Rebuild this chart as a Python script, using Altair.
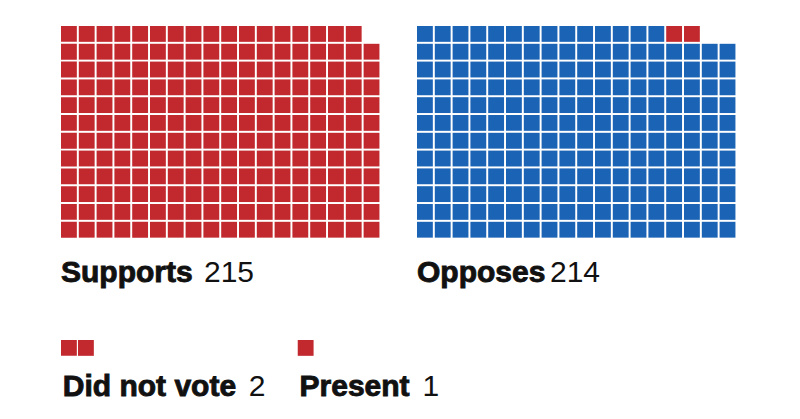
import altair as alt
import pandas as pd

# ---- data ----
groups = ["Supports", "Opposes"]
group_totals = [215, 214]
# party make-up of each group, in fill order
group_parts = [[("R", 215)], [("D", 212), ("R", 2)]]

other_labels = ["Did not vote", "Present"]
other_counts = [2, 1]
other_party = ["R", "R"]

party_domain = ["R", "D"]
party_colors = ["#c1292e", "#1b63b5"]

# ---- layout (in grid units) ----
PITCH = 17.8          # px per grid cell
COLS, ROWS = 18, 12
W, H = 784, 403
group_col0 = [0, 20]
other_col0 = [0, 13.3]
other_row = 17.64
label_row = 14.38
other_label_row = 20.79
num_gap_px = [143, 133]
other_num_gap_px = [186, 123]
SQ = 0.89

cells = []
for g, parts, c0 in zip(groups, group_parts, group_col0):
    i = 0
    for party, n in parts:
        for _ in range(n):
            cells.append({"group": g, "party": party,
                          "col": c0 + i % COLS, "row": ROWS - 1 - i // COLS})
            i += 1
for lab, n, party, c0 in zip(other_labels, other_counts, other_party, other_col0):
    for k in range(n):
        cells.append({"group": lab, "party": party,
                      "col": c0 + k * 0.955, "row": other_row})
cells = pd.DataFrame(cells)
cells["col2"] = cells["col"] + SQ
cells["row2"] = cells["row"] + SQ

labels = []
for g, t, c0, gap in zip(groups, group_totals, group_col0, num_gap_px):
    labels.append({"label": g, "num": str(t), "col": c0, "row": label_row,
                   "ncol": c0 + gap / PITCH})
for g, t, c0, gap in zip(other_labels, other_counts, other_col0, other_num_gap_px):
    labels.append({"label": g, "num": str(t), "col": c0 + 0.1, "row": other_label_row,
                   "ncol": c0 + 0.1 + gap / PITCH})
labels = pd.DataFrame(labels)

xs = alt.Scale(domain=[-53 / PITCH, (W - 53) / PITCH], range=[0, W], nice=False, zero=False)
ys = alt.Scale(domain=[-18 / PITCH, (H - 18) / PITCH], reverse=True, nice=False, zero=False)

squares = alt.Chart(cells).mark_rect().encode(
    x=alt.X("col:Q", scale=xs, axis=None),
    x2="col2:Q",
    y=alt.Y("row:Q", scale=ys, axis=None),
    y2="row2:Q",
    color=alt.Color("party:N", scale=alt.Scale(domain=party_domain, range=party_colors), legend=None),
)

bold = alt.Chart(labels).mark_text(
    align="left", baseline="alphabetic", fontSize=30, fontWeight="bold",
    font="Liberation Sans", color="#111111", stroke="#111111", strokeWidth=0.9
).encode(
    x=alt.X("col:Q", scale=xs, axis=None),
    y=alt.Y("row:Q", scale=ys, axis=None),
    text="label:N",
)

nums = alt.Chart(labels).mark_text(
    align="left", baseline="alphabetic", fontSize=30, fontWeight="normal",
    font="Liberation Sans", color="#111111"
).encode(
    x=alt.X("ncol:Q", scale=xs, axis=None),
    y=alt.Y("row:Q", scale=ys, axis=None),
    text="num:N",
)

chart = alt.layer(squares, bold, nums).properties(
    width=W, height=H, autosize=alt.AutoSizeParams(type="none"), padding=0,
    background="white"
).configure_view(stroke=None)

chart.save("out.html", embed_options={"renderer": "svg", "actions": False})
